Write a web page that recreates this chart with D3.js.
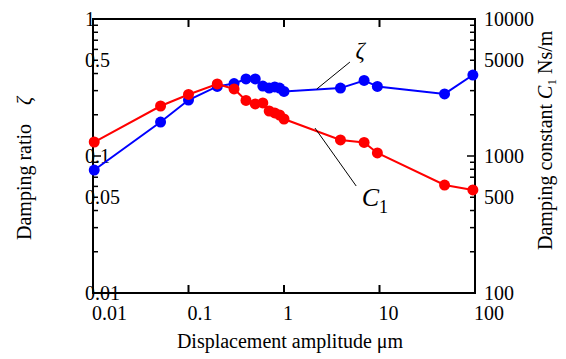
<!DOCTYPE html>
<html>
<head>
<meta charset="utf-8">
<script src="https://cdn.jsdelivr.net/npm/d3@7"></script>
<style>
  body { margin: 0; background: #fff; }
  text { font-family: "Liberation Serif", "Times New Roman", serif; }
</style>
</head>
<body>
<script>
var width = 566,
    height = 359

// displacement amplitude (um)
var amplitude = [0.0103, 0.051, 0.1, 0.2, 0.3, 0.4, 0.5, 0.6, 0.7, 0.8, 0.9, 1.0, 3.9, 6.9, 9.5, 48, 95]
// damping ratio zeta (left axis)
var zeta = [0.079, 0.177, 0.256, 0.322, 0.338, 0.365, 0.365, 0.324, 0.313, 0.319, 0.313, 0.296, 0.313, 0.356, 0.322, 0.284, 0.39]
// damping constant C1 Ns/m (right axis)
var c1 = [1265, 2317, 2812, 3355, 3085, 2543, 2398, 2438, 2130, 2061, 1992, 1862, 1309, 1255, 1052, 614, 565]

var xTicks = [0.01, 0.1, 1, 10, 100]
var xTickLabels = ["0.01", "0.1", "1", "10", "100"]
var leftTicks = [1, 0.5, 0.1, 0.05, 0.01]
var leftTickLabels = ["1", "0.5", "0.1", "0.05", "0.01"]
var rightTicks = [10000, 5000, 1000, 500, 100]
var rightTickLabels = ["10000", "5000", "1000", "500", "100"]

var x = d3.scaleLog().domain([0.01, 100]).range([93, 475])
var yL = d3.scaleLog().domain([0.01, 1]).range([293, 19])
var yR = d3.scaleLog().domain([100, 10000]).range([293, 19])

var svg = d3.select("body").append("svg")
    .attr("width", width)
    .attr("height", height)

// minor ticks for a log scale: 2..9 in each decade
function logTicks(s) {
  return s.ticks(20)
}
function isMajor(v) {
  var l = Math.log10(v)
  return Math.abs(l - Math.round(l)) < 1e-9
}

var axes = svg.append("g").attr("stroke", "black").attr("stroke-width", 2)

// left axis ticks (inward)
axes.selectAll(".lt").data(logTicks(yL)).enter().append("line")
    .attr("x1", x.range()[0]).attr("x2", function(d) { return x.range()[0] + (isMajor(d) ? 8 : 5) })
    .attr("y1", function(d) { return yL(d) }).attr("y2", function(d) { return yL(d) })
    .attr("stroke-width", 1.5)

// right axis ticks (inward)
axes.selectAll(".rt").data(logTicks(yR)).enter().append("line")
    .attr("x1", x.range()[1]).attr("x2", function(d) { return x.range()[1] - (isMajor(d) ? 8 : 5) })
    .attr("y1", function(d) { return yR(d) }).attr("y2", function(d) { return yR(d) })
    .attr("stroke-width", 1.5)

// top and bottom decade ticks
axes.selectAll(".bt").data(xTicks).enter().append("line")
    .attr("x1", function(d) { return x(d) }).attr("x2", function(d) { return x(d) })
    .attr("y1", yL.range()[0]).attr("y2", yL.range()[0] - 8)
axes.selectAll(".tt").data(xTicks).enter().append("line")
    .attr("x1", function(d) { return x(d) }).attr("x2", function(d) { return x(d) })
    .attr("y1", yL.range()[1]).attr("y2", yL.range()[1] + 8)

// frame
axes.append("rect")
    .attr("x", x.range()[0]).attr("y", yL.range()[1])
    .attr("width", x.range()[1] - x.range()[0])
    .attr("height", yL.range()[0] - yL.range()[1])
    .attr("fill", "none")

// tick labels
svg.selectAll(".xl").data(xTicks).enter().append("text")
    .attr("x", function(d) { return x(d) - 1 })
    .attr("y", 320)
    .attr("font-size", 20)
    .text(function(d, i) { return xTickLabels[i] })

svg.selectAll(".yll").data(leftTicks).enter().append("text")
    .attr("x", 85)
    .attr("y", function(d) { return yL(d) })
    .attr("dy", "0.35em")
    .attr("font-size", 20)
    .text(function(d, i) { return leftTickLabels[i] })

svg.selectAll(".yrl").data(rightTicks).enter().append("text")
    .attr("x", 484)
    .attr("y", function(d) { return yR(d) })
    .attr("dy", "0.35em")
    .attr("font-size", 20)
    .text(function(d, i) { return rightTickLabels[i] })

// series
var data = amplitude.map(function(a, i) { return { a: a, z: zeta[i], c: c1[i] } })

var lineZ = d3.line().x(function(d) { return x(d.a) }).y(function(d) { return yL(d.z) })
var lineC = d3.line().x(function(d) { return x(d.a) }).y(function(d) { return yR(d.c) })

svg.append("path").datum(data)
    .attr("d", lineZ).attr("fill", "none").attr("stroke", "#0000ff").attr("stroke-width", 2)
svg.selectAll(".pz").data(data).enter().append("circle")
    .attr("cx", function(d) { return x(d.a) })
    .attr("cy", function(d) { return yL(d.z) })
    .attr("r", 5.5).attr("fill", "#0000ff")

svg.append("path").datum(data)
    .attr("d", lineC).attr("fill", "none").attr("stroke", "#ff0000").attr("stroke-width", 2)
svg.selectAll(".pc").data(data).enter().append("circle")
    .attr("cx", function(d) { return x(d.a) })
    .attr("cy", function(d) { return yR(d.c) })
    .attr("r", 5.5).attr("fill", "#ff0000")

// annotations
svg.append("line")
    .attr("x1", x(2.2)).attr("y1", yL(0.308))
    .attr("x2", x(4.9)).attr("y2", yL(0.485))
    .attr("stroke", "black").attr("stroke-width", 1)
svg.append("text")
    .attr("x", x(5.6)).attr("y", yL(0.52))
    .attr("font-size", 23).attr("font-style", "italic")
    .text("ζ")

svg.append("line")
    .attr("x1", x(2.11)).attr("y1", yR(1600))
    .attr("x2", x(5.7)).attr("y2", yR(604))
    .attr("stroke", "black").attr("stroke-width", 1)
var cl = svg.append("text")
    .attr("x", x(6.5)).attr("y", yR(431))
    .attr("font-size", 26)
cl.append("tspan").attr("font-style", "italic").text("C")
cl.append("tspan").attr("font-size", 18).attr("dy", 7).text("1")

// axis titles
svg.append("text")
    .attr("x", 290).attr("y", 348)
    .attr("text-anchor", "middle")
    .attr("font-size", 20)
    .text("Displacement amplitude μm")

var lt = svg.append("text")
    .attr("transform", "translate(31,240) rotate(-90)")
    .attr("font-size", 20)
lt.append("tspan").text("Damping ratio")
lt.append("tspan").attr("dx", 19).attr("font-style", "italic").text("ζ")

var rt = svg.append("text")
    .attr("transform", "translate(552,250) rotate(-90)")
    .attr("font-size", 20)
rt.append("tspan").text("Damping constant ")
rt.append("tspan").attr("font-style", "italic").text("C")
rt.append("tspan").attr("font-size", 13).attr("dy", 4).text("1")
rt.append("tspan").attr("dy", -4).text(" Ns/m")
</script>
</body>
</html>
